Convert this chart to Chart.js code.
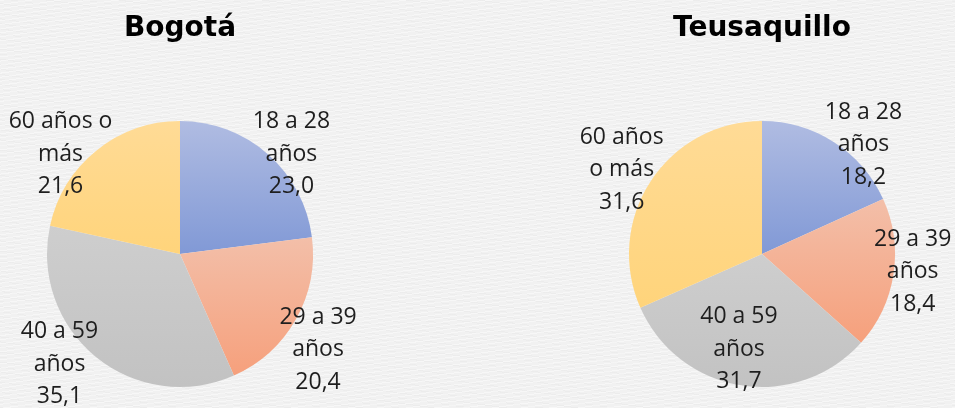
<!DOCTYPE html>
<html>
<head>
<meta charset="utf-8">
<script src="https://cdn.jsdelivr.net/npm/chart.js@4/dist/chart.umd.min.js"></script>
<style>
  html, body { margin: 0; padding: 0; }
  body {
    width: 955px; height: 408px; overflow: hidden; position: relative;
    background-color: #f1f1f1;
    background-image:
      repeating-linear-gradient(172deg, rgba(255,255,255,0.45) 0px, rgba(255,255,255,0.45) 1px, rgba(0,0,0,0) 1px, rgba(0,0,0,0) 4px),
      repeating-linear-gradient(8deg, rgba(0,0,0,0.018) 0px, rgba(0,0,0,0.018) 1px, rgba(0,0,0,0) 1px, rgba(0,0,0,0) 5px);
  }
  .box { position: absolute; top: 0; height: 408px; }
  #boxL { left: 0; width: 480px; }
  #boxR { left: 480px; width: 475px; }
</style>
</head>
<body>
<div class="box" id="boxL"><canvas id="cL"></canvas></div>
<div class="box" id="boxR"><canvas id="cR"></canvas></div>
<script>
// ---- data ----
const chartTitles = ["Bogotá", "Teusaquillo"];
const categories = ["18 a 28 años", "29 a 39 años", "40 a 59 años", "60 años o más"];
const bogotaLabelLines = [["18 a 28", "años"], ["29 a 39", "años"], ["40 a 59", "años"], ["60 años o", "más"]];
const teusaquilloLabelLines = [["18 a 28", "años"], ["29 a 39", "años"], ["40 a 59", "años"], ["60 años", "o más"]];
const bogotaValues = [23.0, 20.4, 35.1, 21.6];
const teusaquilloValues = [18.2, 18.4, 31.7, 31.6];

// ---- styles ----
const sliceGradients = [
  ["#b0bce2", "#8199d6"],
  ["#f3bfa9", "#f6a07c"],
  ["#cecece", "#c2c2c2"],
  ["#ffdb96", "#ffd47b"]
];
const labelFont = "23px 'Open Sans'";
const labelLineHeight = 32.5;
const labelColor = "#1e1e1e";

// label anchor (middle line) relative to pie center, in units of radius
const bogotaLabelPos = [[0.838, -0.752], [1.038, 0.718], [-0.906, 0.827], [-0.898, -0.752]];
const teusaquilloLabelPos = [[0.763, -0.82], [1.133, 0.133], [-0.173, 0.714], [-1.055, -0.632]];

function sliceGradient(ctx) {
  const chart = ctx.chart;
  const area = chart.chartArea;
  if (!area) return sliceGradients[ctx.dataIndex][0];
  const data = chart.data.datasets[0].data;
  const total = data.reduce((a, b) => a + b, 0);
  const cy = (area.top + area.bottom) / 2;
  const r = Math.min(area.right - area.left, area.bottom - area.top) / 2;
  let start = 0;
  for (let i = 0; i < ctx.dataIndex; i++) start += data[i];
  const a0 = start / total * 2 * Math.PI;
  const a1 = (start + data[ctx.dataIndex]) / total * 2 * Math.PI;
  const ys = [cy, cy - r * Math.cos(a0), cy - r * Math.cos(a1)];
  if (a0 <= 0) ys.push(cy - r);
  if (a0 <= Math.PI && a1 >= Math.PI) ys.push(cy + r);
  const yTop = Math.min(...ys), yBot = Math.max(...ys);
  const g = chart.ctx.createLinearGradient(0, yTop, 0, Math.max(yBot, yTop + 1));
  g.addColorStop(0, sliceGradients[ctx.dataIndex][0]);
  g.addColorStop(1, sliceGradients[ctx.dataIndex][1]);
  return g;
}

const sliceLabelPlugin = {
  id: 'sliceLabels',
  afterDatasetsDraw(chart, args, opts) {
    const ctx = chart.ctx;
    const meta = chart.getDatasetMeta(0);
    const values = chart.data.datasets[0].data;
    ctx.save();
    ctx.font = labelFont;
    ctx.fillStyle = labelColor;
    ctx.textAlign = 'center';
    ctx.textBaseline = 'middle';
    meta.data.forEach((arc, i) => {
      const r = arc.outerRadius;
      const px = arc.x + opts.pos[i][0] * r;
      const py = arc.y + opts.pos[i][1] * r;
      const lines = opts.lines[i].concat([values[i].toFixed(1).replace('.', ',')]);
      lines.forEach((t, k) => {
        ctx.fillText(t, px, py + (k - 1) * labelLineHeight);
      });
    });
    ctx.restore();
  }
};

function makeChart(id, title, values, lines, pos, padLeft, padRight) {
  return new Chart(document.getElementById(id), {
    type: 'pie',
    data: {
      labels: categories,
      datasets: [{
        data: values,
        backgroundColor: sliceGradient,
        borderWidth: 0,
        offset: 0,
        hoverOffset: 0
      }]
    },
    options: {
      responsive: true,
      maintainAspectRatio: false,
      animation: false,
      events: [],
      layout: { padding: { left: padLeft, right: padRight, top: 0, bottom: 21 } },
      plugins: {
        legend: { display: false },
        tooltip: { enabled: false },
        title: {
          display: true,
          text: title,
          fullSize: false,
          color: '#000000',
          font: { family: "'DejaVu Sans'", size: 28, weight: 'bold', lineHeight: 1.2 },
          padding: { top: 12, bottom: 75.4 }
        },
        sliceLabels: { lines: lines, pos: pos }
      }
    },
    plugins: [sliceLabelPlugin]
  });
}

makeChart('cL', chartTitles[0], bogotaValues, bogotaLabelLines, bogotaLabelPos, 47, 167);
makeChart('cR', chartTitles[1], teusaquilloValues, teusaquilloLabelLines, teusaquilloLabelPos, 149, 60);
</script>
</body>
</html>
